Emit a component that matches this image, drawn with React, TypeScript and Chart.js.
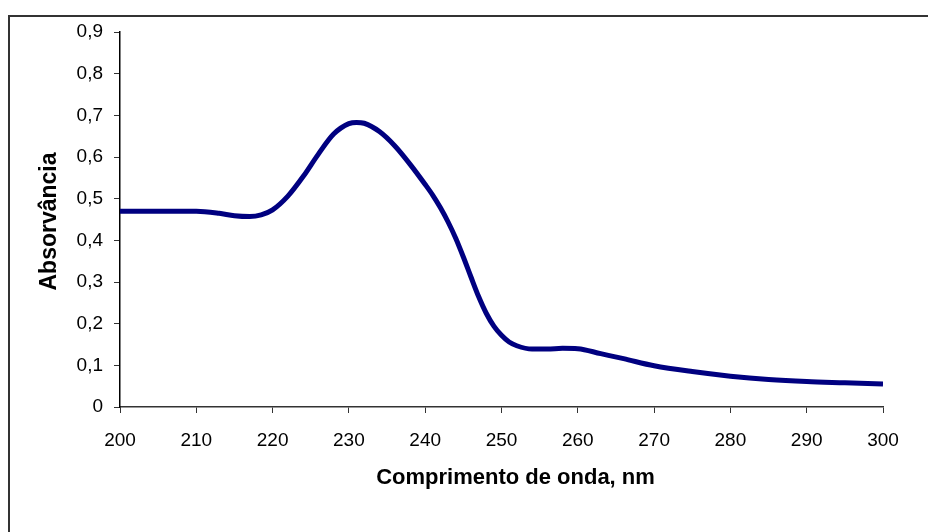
import { useEffect, useRef } from "react";
import { Chart, registerables } from "chart.js";

Chart.register(...registerables);

// UV absorption spectrum: wavelength (nm) vs. absorbance
const wavelengths = [
  200, 205, 210, 213, 215, 217, 218.5, 220, 222, 224, 226, 228, 230, 231, 232,
  234, 236, 238, 240, 241, 242, 243, 244, 245, 246, 247, 248, 249, 250, 251,
  252, 254, 256, 258, 260, 263, 266, 270, 275, 280, 285, 290, 295, 300,
];
const absorbance = [
  0.47, 0.47, 0.47, 0.465, 0.459, 0.457, 0.461, 0.473, 0.506, 0.553, 0.607, 0.655,
  0.68, 0.683, 0.681, 0.661, 0.627, 0.583, 0.534, 0.508, 0.478, 0.444, 0.405,
  0.36, 0.312, 0.265, 0.225, 0.194, 0.172, 0.156, 0.147, 0.139, 0.139, 0.141,
  0.14, 0.128, 0.116, 0.099, 0.085, 0.074, 0.066, 0.061, 0.058, 0.055,
];

const xTitle = "Comprimento de onda, nm";
const yTitle = "Absorvância";

const FONT = "'Liberation Sans', Arial, sans-serif";

const frameAndTitles = {
  id: "frameAndTitles",
  beforeDraw(chart: Chart) {
    const ctx = chart.ctx;
    ctx.save();
    ctx.fillStyle = "#ffffff";
    ctx.fillRect(0, 0, chart.width, chart.height);
    ctx.strokeStyle = "#333333";
    ctx.lineWidth = 2;
    ctx.strokeRect(9, 16, 1000, 1000);
    ctx.restore();
  },
  afterDraw(chart: Chart) {
    const ctx = chart.ctx;
    const area = chart.chartArea;
    ctx.save();
    ctx.fillStyle = "#000000";
    ctx.textAlign = "center";
    ctx.textBaseline = "middle";
    ctx.font = `bold 22px ${FONT}`;
    ctx.fillText(xTitle, (area.left + area.right) / 2 + 14, 478);
    ctx.font = `bold 23px ${FONT}`;
    ctx.translate(50, (area.top + area.bottom) / 2 + 2);
    ctx.rotate(-Math.PI / 2);
    ctx.fillText(yTitle, 0, 0);
    ctx.restore();
  },
};

export default function App() {
  const canvasRef = useRef<HTMLCanvasElement | null>(null);

  useEffect(() => {
    const canvas = canvasRef.current;
    if (!canvas) return;
    const points = wavelengths.map((x, i) => ({ x, y: absorbance[i] }));
    const chart = new Chart(canvas, {
      type: "line",
      data: {
        datasets: [
          {
            data: points,
            borderColor: "#000080",
            borderWidth: 5,
            pointRadius: 0,
            fill: false,
            cubicInterpolationMode: "monotone",
          },
        ],
      },
      options: {
        responsive: false,
        animation: false,
        layout: { padding: { left: 0, right: 45, top: 32, bottom: 0 } },
        plugins: { legend: { display: false }, tooltip: { enabled: false } },
        scales: {
          x: {
            type: "linear",
            min: 200,
            max: 300,
            afterFit(scale: any) {
              scale.height = 125;
            },
            ticks: {
              stepSize: 10,
              color: "#000",
              padding: 16,
              font: { family: FONT, size: 19 },
            },
            grid: {
              drawOnChartArea: false,
              drawTicks: true,
              tickLength: 6,
              color: "#333",
            },
            border: { color: "#333", width: 1.5 },
          },
          y: {
            min: 0,
            max: 0.9,
            afterFit(scale: any) {
              scale.width = 120;
            },
            ticks: {
              stepSize: 0.1,
              color: "#000",
              padding: 11,
              font: { family: FONT, size: 19 },
              callback: (v: any) => {
                const n = Math.round(Number(v) * 10) / 10;
                return n === 0 ? "0" : n.toFixed(1).replace(".", ",");
              },
            },
            grid: {
              drawOnChartArea: false,
              drawTicks: true,
              tickLength: 6,
              color: "#333",
            },
            border: { color: "#000", width: 1.5 },
          },
        },
      },
      plugins: [frameAndTitles],
    });
    return () => chart.destroy();
  }, []);

  return (
    <div style={{ position: "absolute", left: 0, top: 0, width: 928, height: 532 }}>
      <canvas ref={canvasRef} width={928} height={532} />
    </div>
  );
}
